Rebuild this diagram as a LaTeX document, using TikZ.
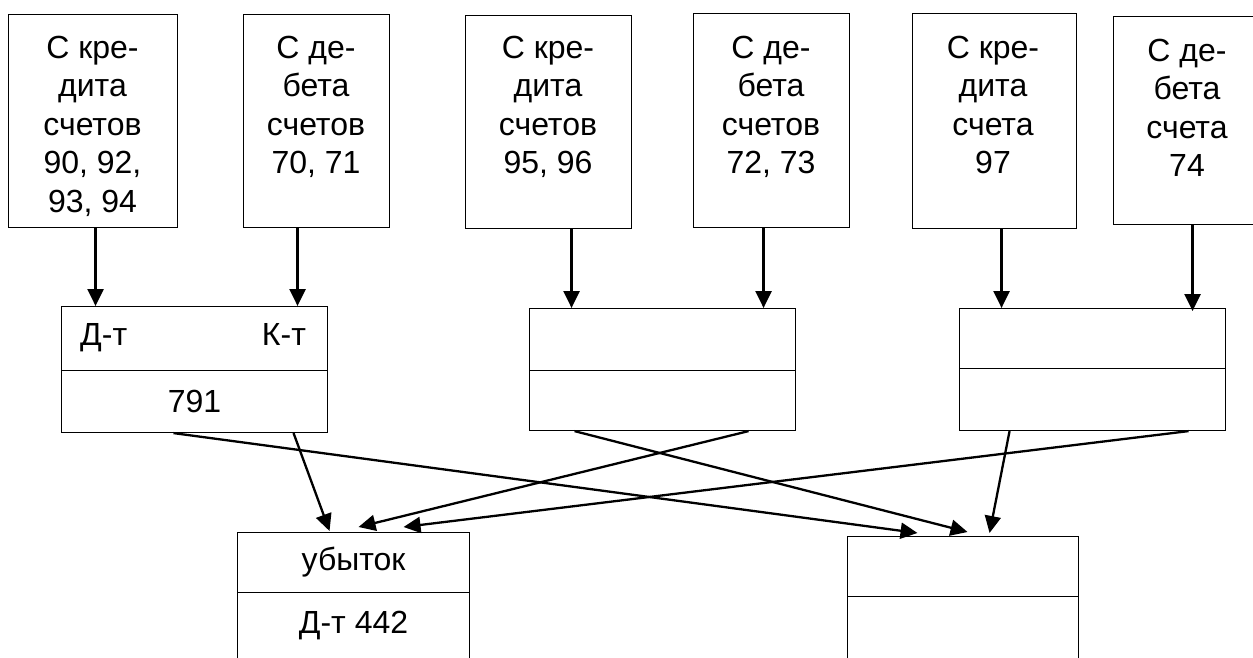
\documentclass[tikz,border=0pt]{standalone}
\usepackage{fontspec}
\setmainfont{Liberation Sans}
\usetikzlibrary{arrows.meta,calc}
\begin{document}
\begin{tikzpicture}[x=1pt,y=-1pt,
  box/.style={draw,line width=1.1pt,inner sep=0pt,anchor=north west,font=\fontsize{32}{38.5}\selectfont},
  lbl/.style={font=\fontsize{32}{38.5}\selectfont,align=center,inner sep=0pt},
  arr/.style={line width=2.3pt,-{Triangle[length=17pt,width=16pt]}}]
\useasboundingbox (0,0) rectangle (1253,657);
\clip (0,0) rectangle (1253,657);
% top boxes
\node[box,minimum width=169,minimum height=213] (b1) at (8,14) {};
\node[box,minimum width=146,minimum height=213] (b2) at (243,14) {};
\node[box,minimum width=166,minimum height=213] (b3) at (465,15) {};
\node[box,minimum width=156,minimum height=214] (b4) at (693,13) {};
\node[box,minimum width=164,minimum height=215] (b5) at (912,13) {};
\node[box,minimum width=150,minimum height=208] (b6) at (1113,16) {};
\node[lbl] (t1) at (92.5,126) {С кре-\\дита\\счетов\\90, 92,\\93, 94};
\node[lbl] (t2) at (316,107) {С де-\\бета\\счетов\\70, 71};
\node[lbl] (t3) at (548,107) {С кре-\\дита\\счетов\\95, 96};
\node[lbl] (t4) at (771,107) {С де-\\бета\\счетов\\72, 73};
\node[lbl] (t5) at (993,105) {С кре-\\дита\\счета\\97};
\node[lbl] (t6) at (1187,108) {С де-\\бета\\счета\\74};
% middle boxes
\node[box,minimum width=266,minimum height=64] (m1t) at (61,306) {};
\node[box,minimum width=266,minimum height=62] (m1b) at (61,370) {791};
\node[box,minimum width=266,minimum height=62] (m2t) at (529,308) {};
\node[box,minimum width=266,minimum height=60] (m2b) at (529,370) {};
\node[box,minimum width=266,minimum height=60] (m3t) at (959,308) {};
\node[box,minimum width=266,minimum height=62] (m3b) at (959,368) {};
\node[lbl,anchor=base west] (dt) at ([xshift=19,yshift=-7]m1t.west) {Д-т};
\node[lbl,anchor=base east] (kt) at ([xshift=-22,yshift=-7]m1t.east) {К-т};
% bottom boxes
\node[box,minimum width=232,minimum height=60] (lt) at (237,532) {убыток};
\node[box,minimum width=232,minimum height=80] (lb) at (237,592) {};
\node[lbl,anchor=base] (dt442) at ([yshift=-40]lt.south) {Д-т 442};
\node[box,minimum width=231,minimum height=60] (rt) at (847,536) {};
\node[box,minimum width=231,minimum height=80] (rb) at (847,596) {};
% vertical arrows
\draw[arr] ([xshift=2.5]b1.south) -- ($(b1.south |- m1t.north)+(2.5,0)$);
\draw[arr] ([xshift=-19]b2.south) -- ($(b2.south |- m1t.north)+(-19,0)$);
\draw[arr] ([xshift=23]b3.south) -- ($(b3.south |- m2t.north)+(23,0)$);
\draw[arr] ([xshift=-8]b4.south) -- ($(b4.south |- m2t.north)+(-8,0)$);
\draw[arr] ([xshift=7]b5.south) -- ($(b5.south |- m3t.north)+(7,0)$);
\draw[arr] ([xshift=4]b6.south) -- ($(b6.south |- m3t.north)+(4,3)$);
% diagonal arrows
\draw[arr] ([xshift=-21]m1b.south) -- ([xshift=-45.5,yshift=3]rt.north);
\draw[arr] ([xshift=99]m1b.south) -- ([xshift=-24,yshift=1]lt.north);
\draw[arr] ([xshift=-88]m2b.south) -- ([xshift=4.5,yshift=4]rt.north);
\draw[arr] ([xshift=86]m2b.south) -- ([xshift=5,yshift=5]lt.north);
\draw[arr] ([xshift=-83]m3b.south) -- ([xshift=26.5,yshift=3]rt.north);
\draw[arr] ([xshift=96]m3b.south) -- ([xshift=50,yshift=5]lt.north);
\end{tikzpicture}
\end{document}
